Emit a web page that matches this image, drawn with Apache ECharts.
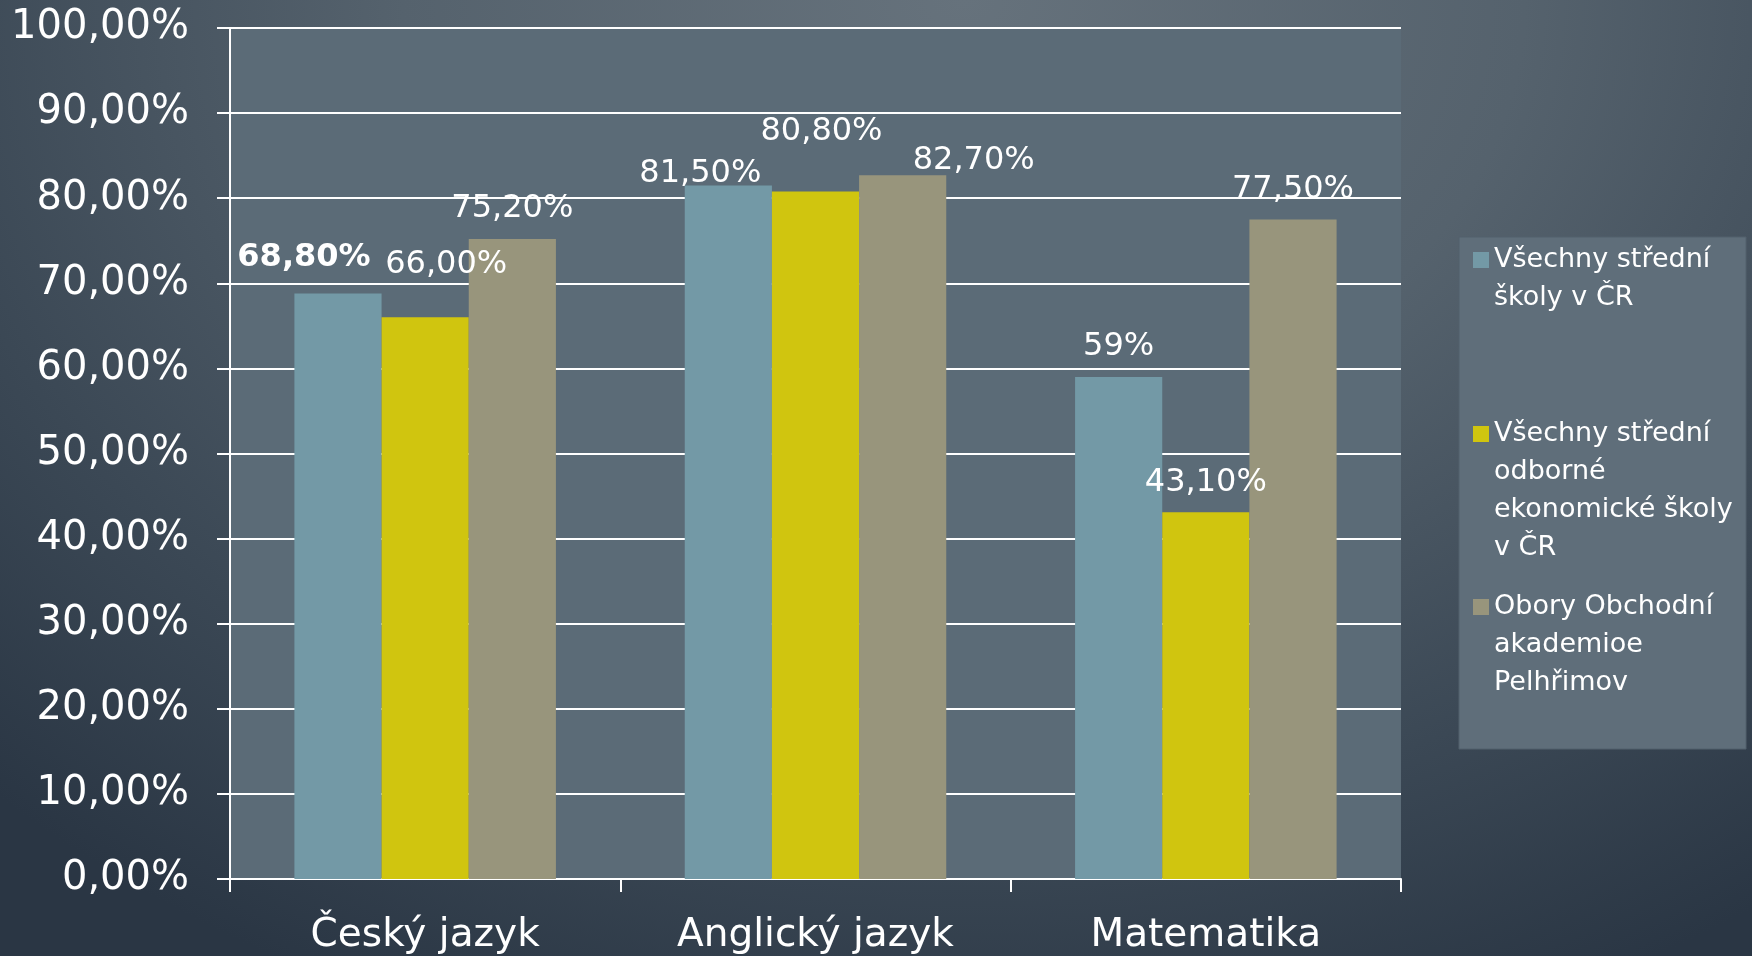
<!DOCTYPE html>
<html>
<head>
<meta charset="utf-8">
<script src="https://cdn.jsdelivr.net/npm/echarts@6/dist/echarts.min.js"></script>
<style>
html,body{margin:0;padding:0;}
#chart{width:1752px;height:956px;background:radial-gradient(ellipse 80% 115% at 55% 0%, #66727c 0%, #55626d 40%, #3b4855 75%, #2a3644 100%);}
</style>
</head>
<body>
<div id="chart"></div>
<script>
const categories = ['Český jazyk', 'Anglický jazyk', 'Matematika'];
const seriesNames = [
  'Všechny střední\nškoly v ČR',
  'Všechny střední\nodborné\nekonomické školy\nv ČR',
  'Obory Obchodní\nakademioe\nPelhřimov'
];
const valuesAll = [68.8, 81.5, 59.0];
const valuesEcon = [66.0, 80.8, 43.1];
const valuesOA = [75.2, 82.7, 77.5];
const labelsAll = ['68,80%', '81,50%', '59%'];
const labelsEcon = ['66,00%', '80,80%', '43,10%'];
const labelsOA = ['75,20%', '82,70%', '77,50%'];
const yTicks = [0, 10, 20, 30, 40, 50, 60, 70, 80, 90, 100];

const FONT = '"DejaVu Sans", "Liberation Sans", sans-serif';
const colors = ['#7399a6', '#d0c50f', '#98957c'];
const seriesValues = [valuesAll, valuesEcon, valuesOA];
const seriesLabels = [labelsAll, labelsEcon, labelsOA];
// label styling offsets (positions only)
const labelOffsets = [
  [[-34, -5], [-28, 19], [0, 1]],
  [[21, -22], [6, -29], [0, 1]],
  [[0, 1], [71, 16], [0, 1]]
];
const boldLabel = [[true, false, false], [false, false, false], [false, false, false]];

const chart = echarts.init(document.getElementById('chart'), null, {renderer: 'canvas'});

const series = seriesNames.map((name, s) => ({
  name: name,
  type: 'bar',
  barGap: '0%',
  barCategoryGap: '33%',
  itemStyle: {color: colors[s]},
  data: seriesValues[s].map((v, i) => ({
    value: v,
    label: {
      show: true,
      position: 'top',
      distance: 15,
      offset: labelOffsets[s][i],
      formatter: seriesLabels[s][i],
      color: '#ffffff',
      fontFamily: FONT,
      fontSize: 32,
      fontWeight: boldLabel[s][i] ? 'bold' : 'normal'
    }
  }))
}));

function legendLines(name) { return name.split('\n').length; }
const legendTops = [203, 301, 512];
const legends = seriesNames.map((name, s) => {
  const n = legendLines(name);
  return {
    data: [name],
    orient: 'vertical',
    left: 1473,
    top: legendTops[s],
    padding: 0,
    itemWidth: 16,
    itemHeight: 16,
    itemGap: 0,
    icon: 'rect',
    selectedMode: false,
    formatter: (t) => '\n'.repeat(n - 1) + t,
    textStyle: {color: '#ffffff', fontFamily: FONT, fontSize: 27, lineHeight: 38}
  };
});

chart.setOption({
  animation: false,
  backgroundColor: 'transparent',
  color: colors,
  graphic: [{
    type: 'rect',
    z: -1,
    shape: {x: 1459, y: 237, width: 287, height: 512},
    style: {fill: '#5f6e7a', stroke: '#52616d', lineWidth: 1}
  }],
  legend: legends,
  grid: {
    left: 230, right: 351, top: 28, bottom: 77,
    show: true, backgroundColor: '#5b6b77', borderWidth: 0
  },
  xAxis: {
    type: 'category',
    data: categories,
    axisLine: {show: true, lineStyle: {color: '#ffffff', width: 2}},
    axisTick: {show: true, length: 13, inside: false, lineStyle: {color: '#ffffff', width: 2}},
    axisLabel: {color: '#ffffff', fontFamily: FONT, fontSize: 39, margin: 37}
  },
  yAxis: {
    type: 'value',
    min: 0, max: 100, interval: 10,
    axisLine: {show: true, lineStyle: {color: '#ffffff', width: 2}},
    axisTick: {show: true, length: 13, lineStyle: {color: '#ffffff', width: 2}},
    splitLine: {show: true, lineStyle: {color: '#ffffff', width: 2}},
    axisLabel: {
      color: '#ffffff', fontFamily: FONT, fontSize: 40, margin: 41,
      padding: [8, 0, 0, 0],
      formatter: (v) => yTicks.includes(v) ? v.toFixed(2).replace('.', ',') + '%' : ''
    }
  },
  series: series
});
</script>
</body>
</html>
